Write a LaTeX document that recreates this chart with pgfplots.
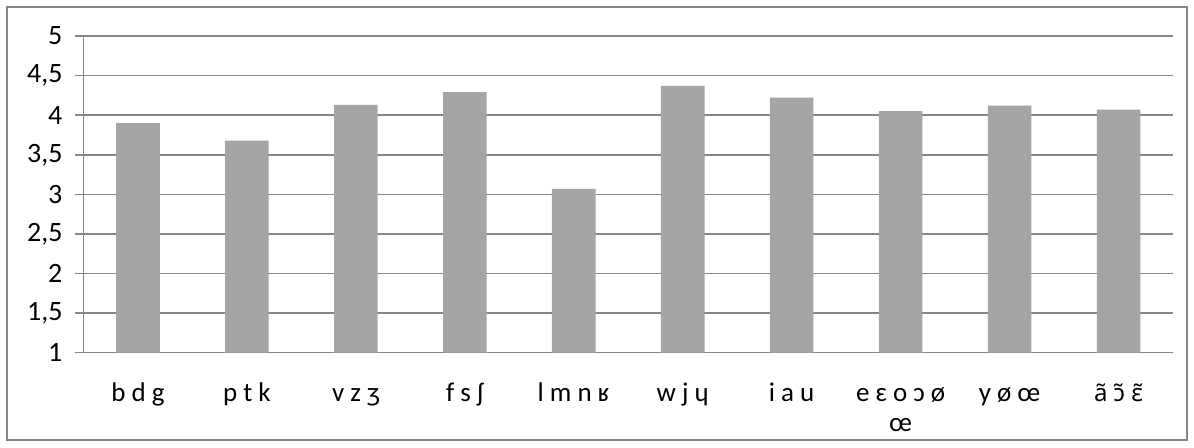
\documentclass[border=0pt]{standalone}
\usepackage{pgfplots}
\pgfplotsset{compat=1.18}
\usepackage{fontspec}
\setmainfont{Carlito}
\newfontfamily\ipafont{Noto Sans}
\definecolor{bargray}{HTML}{A5A5A5}
\definecolor{linegray}{HTML}{868686}
\begin{document}
\begin{tikzpicture}
% page bounds and outer chart frame
\path (-41.75pt,-47.65pt) rectangle (555.25pt,176.35pt);
\draw[linegray, line width=0.6pt] (-38.25pt,-43.65pt) rectangle (551.75pt,172.85pt);
\begin{axis}[
    at={(0,0)}, anchor=south west,
    width=544.75pt, height=158.35pt, scale only axis,
    ymin=1, ymax=5, ytick={1,1.5,...,5},
    xmin=-0.5, xmax=9.5,
    xtick={0,...,9},
    xticklabels={\strut b d g, \strut p t k, \strut v z ʒ, \strut f s ʃ, \strut l m n ʁ,
        \strut w j ɥ, \strut i a u, {\strut e ɛ o ɔ ø\\œ}, \strut y ø œ,
        {\strut{\ipafont\fontsize{12}{13}\selectfont ã ɔ̃ ɛ̃}}},
    extra x ticks={-0.5,0.5,...,9.5},
    extra x tick labels={},
    extra x tick style={major tick length=4pt, tick align=outside, grid=none},
    x tick style={draw=none},
    axis x line=bottom, axis y line=left,
    axis line style={linegray, line width=0.8pt, -},
    ymajorgrids,
    major grid style={linegray, line width=0.8pt},
    y tick style={linegray, line width=0.8pt},
    tick align=outside, major tick length=4pt,
    /pgf/number format/assume math mode=true,
    /pgf/number format/use comma,
    yticklabel style={font=\fontsize{14}{16}\selectfont, xshift=-3pt},
    xticklabel style={font=\fontsize{13.5}{15}\selectfont, align=center, yshift=-6.5pt},
    ybar, bar width=0.4,
]
\addplot[fill=bargray, draw=none] coordinates {
    (0,3.90) (1,3.68) (2,4.13) (3,4.29) (4,3.07)
    (5,4.37) (6,4.22) (7,4.05) (8,4.12) (9,4.07)
};
\end{axis}
\end{tikzpicture}
\end{document}
